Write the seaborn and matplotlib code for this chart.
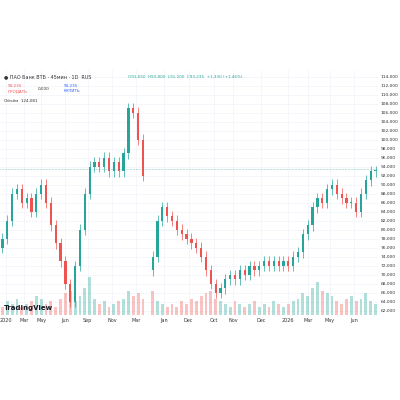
import numpy as np
import seaborn as sns
from matplotlib import pyplot as plt

# closes in thousands, one candle per slot; None marks the gap in the series
closes = [78, 82, 88, 89, 86, 87, 84, 88, 90, 86, 81, 77, 73, 68, 64, 72, 80, 88, 94, 95,
          94, 96, 93, 95, 93, 97, 107, 106, 100, 92, None, 74, 82, 85, 83, 82, 80, 79, 78, 77,
          76, 74, 71, 68, 66, 67, 69, 70, 69, 71, 70, 72, 71, 72, 73, 72, 73, 72, 73, 72,
          74, 75, 79, 81, 85, 87, 86, 89, 90, 88, 87, 86, 86, 84, 88, 91, 93, 93]
volumes = [3, 5, 4, 6, 3, 4, 5, 7, 6, 4, 5, 3, 6, 8, 9, 5, 7, 10, 14, 6,
           4, 5, 3, 4, 5, 6, 9, 7, 8, 6, 0, 9, 5, 4, 3, 4, 3, 5, 4, 6,
           5, 7, 8, 9, 6, 5, 4, 3, 5, 4, 3, 4, 5, 3, 4, 3, 5, 4, 3, 4,
           5, 6, 8, 7, 10, 12, 9, 8, 7, 5, 4, 6, 7, 5, 6, 8, 5, 4]
tick_pos = [0.8, 4.4, 8, 13, 17.6, 22.6, 27.6, 33.4, 38.4, 43.6, 47.6, 53.4, 59, 63, 67.6, 72.6]
tick_labels = ["2020", "Mar", "May", "Jun", "Sep", "Nov", "Mar", "Jan", "Dec", "Oct",
               "Nov", "Dec", "2026", "Mar", "May", "Jun"]
yticks = list(range(62000, 116000, 2000))

sns.set_style("white")
up, down = "#26a69a", "#ef5350"

fig = plt.figure(figsize=(4, 4), dpi=100)
ax = fig.add_axes([0, 0.2125, 0.945, 0.6125])

prev = closes[0] - 2
for i, c in enumerate(closes):
    if c is None:
        prev = None
        continue
    o = prev if prev is not None else c - 3
    col = up if c >= o else down
    lo, hi = min(o, c) * 1000, max(o, c) * 1000
    ax.vlines(i, lo - 1200, hi + 1200, color=col, lw=0.5)
    ax.bar(i, max(hi - lo, 300), bottom=lo, width=0.45, color=col, lw=0)
    prev = c
ax.axhline(93500, color=up, lw=0.4, ls=":")

vax = ax.twinx()
vcols = [(up if (closes[i] is not None and i > 0 and closes[i - 1] is not None
                 and closes[i] >= closes[i - 1]) else down) for i in range(len(closes))]
vax.bar(range(len(volumes)), volumes, width=0.6, color=vcols, alpha=0.35, lw=0)
vax.set_ylim(0, 90)
vax.set_yticks([])
for s in vax.spines.values():
    s.set_visible(False)

ax.set_ylim(61100, 115500)
ax.set_xlim(-0.5, 77.5)
ax.yaxis.tick_right()
ax.set_yticks(yticks)
ax.set_yticklabels([f"{v:,}" for v in yticks], fontsize=3.2, color="#333")
ax.set_xticks(tick_pos)
ax.set_xticklabels(tick_labels, fontsize=3.5, color="#333")
ax.tick_params(length=0, pad=2)
ax.grid(True, color="#f0f3fa", lw=0.5)
for s in ax.spines.values():
    s.set_visible(False)

fig.text(0.01, 0.805, "● ПАО Банк ВТБ · 45мин · 1D  RUS", fontsize=3.5, color="#333")
fig.text(0.32, 0.805, "O91,650  H93,800  L91,200  C93,235  +1,330 (+1.46%)", fontsize=3, color=up)
fig.text(0.02, 0.77, "93,235\nПРОДАТЬ", fontsize=3, color=down)
fig.text(0.095, 0.775, "0,000", fontsize=3, color="#333")
fig.text(0.16, 0.77, "93,235\nКУПИТЬ", fontsize=3, color="#2962ff")
fig.text(0.01, 0.745, "Объём  124,081", fontsize=3, color="#333")
fig.text(0.01, 0.225, "TradingView", fontsize=5, weight="bold", color="#131722")

fig.savefig("out.png", dpi=100, facecolor="white")
